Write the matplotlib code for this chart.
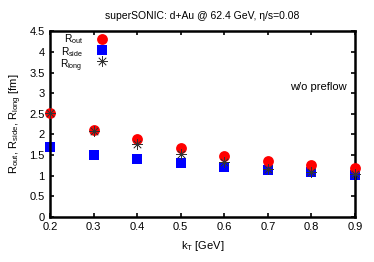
import matplotlib
matplotlib.use("Agg")
import matplotlib.pyplot as plt

plt.rcParams['font.family'] = ['Liberation Sans', 'DejaVu Sans']
plt.rcParams['mathtext.default'] = 'regular'

kT = [0.2, 0.3, 0.4, 0.5, 0.6, 0.7, 0.8, 0.9]
R_out = [2.52, 2.11, 1.88, 1.67, 1.47, 1.35, 1.25, 1.19]
R_side = [1.69, 1.51, 1.40, 1.30, 1.21, 1.13, 1.08, 1.01]
R_long = [2.52, 2.08, 1.77, 1.53, 1.33, 1.16, 1.08, 1.03]
xticks = [0.2, 0.3, 0.4, 0.5, 0.6, 0.7, 0.8, 0.9]
yticks = [0, 0.5, 1, 1.5, 2, 2.5, 3, 3.5, 4, 4.5]
labels = ['R$_{out}$', 'R$_{side}$', 'R$_{long}$']

fig = plt.figure(figsize=(3.74, 2.62), dpi=100)
ax = fig.add_axes([0.134, 0.172, 0.815, 0.708])

styles = [
    dict(marker='o', color='#ff0000', markersize=7.8, markeredgewidth=0, zorder=3),
    dict(marker='s', color='#0000ff', markersize=7.4, markeredgewidth=0, zorder=2),
    dict(marker=(8, 2, 0), color='#333333', markersize=7.5, markeredgewidth=0.5, zorder=4),
]
for series, st in zip([R_out, R_side, R_long], styles):
    ax.plot(kT, series, linestyle='none', clip_on=False, **st)

# legend drawn in axes coordinates
leg_y = [0.960, 0.900, 0.843]
for st, yy in zip(styles, leg_y):
    ax.plot([0.170], [yy], linestyle='none', transform=ax.transAxes, clip_on=False, **st)
ax.text(0.107, 0.995, '\n'.join(labels), transform=ax.transAxes, fontsize=7.3,
        ha='right', va='top', multialignment='right', linespacing=0.88)

ax.set_xlim(0.2, 0.9)
ax.set_ylim(0, 4.5)
ax.set_xticks(xticks)
ax.set_xticklabels([f"{v:g}" for v in xticks])
ax.set_yticks(yticks)
ax.set_yticklabels([f"{v:g}" for v in yticks])
ax.tick_params(direction='in', top=True, right=True, labelsize=8, length=3, width=1.2, pad=4)
for s in ax.spines.values():
    s.set_linewidth(1.8)

ax.set_xlabel('k$_T$ [GeV]', fontsize=8, labelpad=5)
ax.set_ylabel('R$_{out}$, R$_{side}$, R$_{long}$ [fm]', fontsize=8, labelpad=4)
ax.set_title('superSONIC: d+Au @ 62.4 GeV, η/s=0.08', fontsize=7.5, pad=9)
ax.text(0.972, 0.70, 'w/o preflow', transform=ax.transAxes, fontsize=8, ha='right', va='center')

fig.savefig('out.png', dpi=100)
